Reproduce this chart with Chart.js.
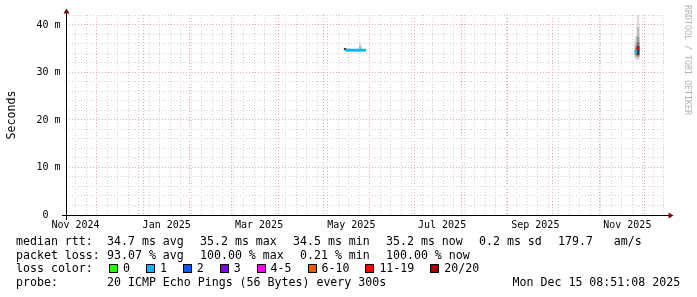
<!DOCTYPE html>
<html><head><meta charset="utf-8">
<script src="https://cdn.jsdelivr.net/npm/chart.js@4.4.1/dist/chart.umd.min.js"></script>
<style>
html,body{margin:0;padding:0;background:#fff;overflow:hidden;}
#wrap{position:relative;width:697px;height:297px;background:#fff;}
canvas{position:absolute;left:0;top:0;}
.t{position:absolute;font-family:'DejaVu Sans Mono',monospace;font-size:11.6px;line-height:14px;white-space:pre;color:#000;}
.b{position:absolute;width:7px;height:7px;border:1px solid #000;}
</style></head><body>
<div id="wrap"><canvas id="c" width="697" height="297"></canvas><div id="legend"></div></div>
<script>
// ---------------- data ----------------
const rangeEnd = "2025-12-15T08:51:08Z";
const rangeDays = 400;
const yMaxSeconds = 0.0421;

const xLabels = ["Nov 2024", "Jan 2025", "Mar 2025", "May 2025", "Jul 2025", "Sep 2025", "Nov 2025"];
const xLabelTimes = ["2024-11-16T17:00Z", "2025-01-16T12:00Z", "2025-03-19T02:00Z", "2025-05-19T14:00Z",
                     "2025-07-19T02:00Z", "2025-09-19T06:00Z", "2025-11-19T14:00Z"];

// median round trip time per column (seconds) and lost pings (of 20)
const medianTimes = ["2025-05-16T12:00Z","2025-05-17T12:00Z","2025-05-18T12:00Z","2025-05-19T12:00Z",
  "2025-05-20T12:00Z","2025-05-21T12:00Z","2025-05-22T12:00Z","2025-05-23T12:00Z","2025-05-24T12:00Z",
  "2025-05-25T12:00Z","2025-05-26T12:00Z","2025-05-27T12:00Z","2025-05-28T12:00Z",
  "2025-11-25T09:00Z","2025-11-26T17:00Z"];
const medianRtt = [0.0347,0.0347,0.0347,0.0347,0.0347,0.0347,0.0347,0.0347,0.0347,0.0347,0.0347,0.0347,0.0347,
  0.0344,0.0351];
const medianLoss = [1,1,1,1,1,1,1,1,1,1,1,1,1, 1,15];

// smoke: ping spread per column, outer band (1) to inner band (5); null = none
const smokeTimes = ["2025-05-15T12:00Z","2025-05-25T12:00Z","2025-11-25T09:00Z","2025-11-26T17:00Z"];
const smokeLow1  = [null,   0.0349, 0.0329, 0.0326];
const smokeHigh1 = [null,   0.0361, 0.0375, 0.0421];
const smokeLow2  = [null,   0.0349, 0.0333, 0.0330];
const smokeHigh2 = [null,   0.0355, 0.0360, 0.0395];
const smokeLow3  = [null,   null,   0.0337, 0.0334];
const smokeHigh3 = [null,   null,   0.0352, 0.0375];
const smokeLow4  = [null,   null,   null,   0.0336];
const smokeHigh4 = [null,   null,   null,   0.0363];
const smokeLow5  = [0.03475,null,   null,   0.0338];
const smokeHigh5 = [0.0351, null,   null,   0.0355];

const lossLabels = ["0","1","2","3","4-5","6-10","11-19","20/20"];
const lossMin    = [0, 1, 2, 3, 4, 6, 11, 20];
const lossColors = ["#26ff00","#00b8ff","#0059ff","#7e00ff","#ff00ff","#ff5500","#ff0000","#a00000"];

const rttLabel = "median rtt:";
const rttStats = ["34.7 ms avg","35.2 ms max","34.5 ms min","35.2 ms now","0.2 ms sd","179.7   am/s"];
const lossLabel = "packet loss:";
const lossStats = ["93.07 % avg","100.00 % max","0.21 % min","100.00 % now"];
const colorLabel = "loss color:";
const probeLabel = "probe:";
const probeText = "20 ICMP Echo Pings (56 Bytes) every 300s";
const stampText = "Mon Dec 15 08:51:08 2025";
const yTitle = "Seconds";
const watermark = "RRDTOOL / TOBI OETIKER";

// ---------------- helpers ----------------
const END = Date.parse(rangeEnd);
const START = END - rangeDays * 864e5;
const toDay = s => (Date.parse(s) - START) / 864e5;
const lossColor = n => { let c = lossColors[0]; lossMin.forEach((m, i) => { if (n >= m) c = lossColors[i]; }); return c; };

// grid: month starts (major) and Sundays (minor)
const majorDays = [], minorDays = [];
{
  const s = new Date(START);
  let y = s.getUTCFullYear(), m = s.getUTCMonth();
  for (;;) {
    const t = Date.UTC(y, m, 1);
    if (t > END) break;
    if (t >= START) majorDays.push((t - START) / 864e5);
    m++; if (m > 11) { m = 0; y++; }
  }
  let t = Date.UTC(s.getUTCFullYear(), s.getUTCMonth(), s.getUTCDate());
  while (new Date(t).getUTCDay() !== 0) t += 864e5;
  for (; t <= END; t += 7 * 864e5) if (t >= START) minorDays.push((t - START) / 864e5);
}
const isMajorX = v => majorDays.some(d => Math.abs(d - v) < 1e-6);
const xGrid = minorDays.filter(v => !isMajorX(v)).concat(majorDays).sort((a, b) => a - b);
const yGrid = [];
for (let ms = 0; ms <= 42; ms += 2) yGrid.push(ms / 1000);
const msOf = v => Math.round(v * 1000);

const GRAY = '#d2d2d2', RED = '#f2a6a6', DASH = [1, 2];
const MEDIAN_HALF = 0.00021;
const shades = ['#dddddd', '#bdbdbd', '#9c9c9c', '#787878', '#3a3a3a'];

const bandLows = [smokeLow1, smokeLow2, smokeLow3, smokeLow4, smokeLow5];
const bandHighs = [smokeHigh1, smokeHigh2, smokeHigh3, smokeHigh4, smokeHigh5];

const barCommon = { type: 'bar', grouped: false, barThickness: 2, borderWidth: 0 };
const datasets = [];
datasets.push(Object.assign({}, barCommon, {
  label: 'median',
  data: medianTimes.map((t, i) => ({ x: toDay(t), y: [medianRtt[i] - MEDIAN_HALF, medianRtt[i] + MEDIAN_HALF] })),
  backgroundColor: medianLoss.map(lossColor),
  order: 0
}));
bandLows.forEach((lo, k) => {
  const pts = [];
  smokeTimes.forEach((t, i) => { if (lo[i] != null) pts.push({ x: toDay(t), y: [lo[i], bandHighs[k][i]] }); });
  datasets.push(Object.assign({}, barCommon, { label: 'smoke' + (k + 1), data: pts, backgroundColor: shades[k], order: 10 - k }));
});

const decor = {
  id: 'decor',
  afterDraw(chart) {
    const ctx = chart.ctx, a = chart.chartArea, xs = chart.scales.x;
    ctx.save();
    ctx.fillStyle = '#000';
    ctx.fillRect(a.left - 4, a.bottom, a.right - a.left + 9, 1);
    ctx.fillRect(a.left, a.top - 4, 1, a.bottom - a.top + 9);
    ctx.fillStyle = '#800000';
    ctx.beginPath();
    ctx.moveTo(a.right + 2.5, a.bottom - 2.5); ctx.lineTo(a.right + 2.5, a.bottom + 3.5); ctx.lineTo(a.right + 7.5, a.bottom + 0.5);
    ctx.closePath(); ctx.fill();
    ctx.beginPath();
    ctx.moveTo(a.left - 2.5, a.top - 1.5); ctx.lineTo(a.left + 3.5, a.top - 1.5); ctx.lineTo(a.left + 0.5, a.top - 6.5);
    ctx.closePath(); ctx.fill();
    // x labels
    ctx.fillStyle = '#000';
    ctx.font = '10px "DejaVu Sans Mono"';
    ctx.textAlign = 'center'; ctx.textBaseline = 'alphabetic';
    xLabels.forEach((l, i) => ctx.fillText(l, xs.getPixelForValue(toDay(xLabelTimes[i])), a.bottom + 13));
    // y title
    ctx.save();
    ctx.font = '11.6px "DejaVu Sans Mono"';
    ctx.translate(15, (a.top + a.bottom) / 2); ctx.rotate(-Math.PI / 2);
    ctx.fillText(yTitle, 0, 0);
    ctx.restore();
    // watermark
    ctx.save();
    ctx.fillStyle = '#b4b4b4';
    ctx.font = '8.3px "DejaVu Sans Mono"';
    ctx.translate(684.5, 60); ctx.rotate(Math.PI / 2);
    ctx.fillText(watermark, 0, 0);
    ctx.restore();
    ctx.restore();
  }
};

new Chart(document.getElementById('c'), {
  type: 'bar',
  data: { datasets },
  options: {
    responsive: false, animation: false, devicePixelRatio: 1,
    layout: { padding: { top: 15, bottom: 82, left: 0, right: 31 } },
    plugins: { legend: { display: false }, tooltip: { enabled: false } },
    scales: {
      x: {
        type: 'linear', min: 0, max: rangeDays, offset: false,
        grid: { offset: false, drawTicks: false, lineWidth: 1,
                color: c => isMajorX(c.tick.value) ? RED : GRAY },
        border: { display: false, dash: DASH },
        ticks: { display: false },
        afterBuildTicks: s => { s.ticks = xGrid.map(v => ({ value: v })); },
        afterFit: s => { s.height = 0; }
      },
      y: {
        type: 'linear', min: 0, max: yMaxSeconds,
        grid: { drawTicks: false, lineWidth: 1,
                color: c => { const ms = msOf(c.tick.value); return ms === 0 ? 'rgba(0,0,0,0)' : (ms % 10 === 0 ? RED : GRAY); } },
        border: { display: false, dash: DASH },
        ticks: { padding: 5.5, autoSkip: false, color: '#000', font: { family: 'DejaVu Sans Mono', size: 10 },
                 callback: v => { const ms = msOf(v); if (ms % 10) return ''; return ms === 0 ? '0  ' : ms + ' m'; } },
        afterBuildTicks: s => { s.ticks = yGrid.map(v => ({ value: v })); },
        afterFit: s => { s.width = 66; }
      }
    }
  },
  plugins: [decor]
});

// ---------------- legend (HTML text) ----------------
const L = document.getElementById('legend');
const CH = 7, GAP = 16;
function txt(s, left, top) { const d = document.createElement('div'); d.className = 't'; d.textContent = s; d.style.left = left + 'px'; d.style.top = top + 'px'; L.appendChild(d); }
function row(label, items, top) { txt(label, 16, top); let x = 107; items.forEach(s => { txt(s, x, top); x += s.length * CH + GAP; }); }
row(rttLabel, rttStats, 234);
row(lossLabel, lossStats, 247.7);
txt(colorLabel, 16, 261.3);
{
  let x = 109;
  lossLabels.forEach((s, i) => {
    const b = document.createElement('div'); b.className = 'b';
    b.style.left = x + 'px'; b.style.top = '264px'; b.style.background = lossColors[i];
    L.appendChild(b);
    txt(s, x + 14, 261.3);
    x += 14.3 + s.length * CH + 15.6;
  });
}
txt(probeLabel, 16, 275);
txt(probeText, 107, 275);
txt(stampText, 680.6 - stampText.length * CH, 275);
</script>
</body></html>
